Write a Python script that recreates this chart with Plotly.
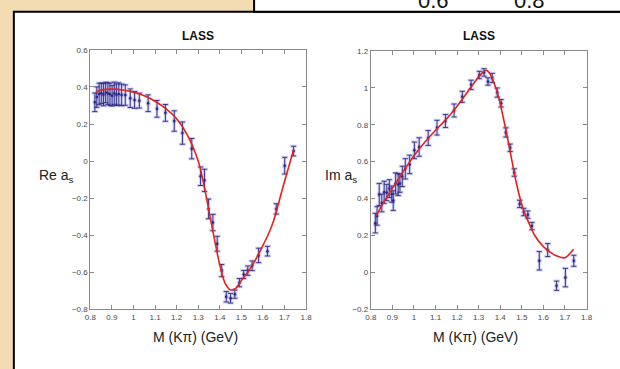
import plotly.graph_objects as go

W, H = 620, 369

# --- Re a_s : LASS measurements ---
m_re = [0.821, 0.830, 0.841, 0.851, 0.861, 0.871, 0.881, 0.891, 0.901, 0.911, 0.921, 0.932, 0.945,
        0.962, 0.985, 1.005, 1.027, 1.068, 1.109, 1.148, 1.189, 1.227, 1.270, 1.311, 1.329,
        1.348, 1.368, 1.388, 1.409, 1.430, 1.450, 1.470, 1.491, 1.511, 1.530, 1.550, 1.580,
        1.621, 1.662, 1.701, 1.742]
re_val = [0.317, 0.345, 0.362, 0.366, 0.358, 0.370, 0.364, 0.360, 0.352, 0.366, 0.358, 0.362, 0.357,
          0.356, 0.339, 0.330, 0.326, 0.312, 0.282, 0.260, 0.216, 0.151, 0.067, -0.082, -0.104,
          -0.258, -0.332, -0.446, -0.591, -0.732, -0.740, -0.718, -0.656, -0.612, -0.591, -0.565, -0.509,
          -0.486, -0.258, -0.025, 0.054]
re_err = [0.050, 0.055, 0.058, 0.055, 0.060, 0.055, 0.058, 0.060, 0.055, 0.060, 0.058, 0.060, 0.058,
          0.055, 0.050, 0.045, 0.040, 0.045, 0.045, 0.045, 0.055, 0.060, 0.055, 0.050, 0.060,
          0.053, 0.044, 0.040, 0.033, 0.028, 0.026, 0.022, 0.022, 0.022, 0.025, 0.026, 0.039,
          0.026, 0.028, 0.045, 0.026]

# --- Re a_s : fit curve ---
m_re_fit = [0.825, 0.85, 0.875, 0.9, 0.95, 1.0, 1.05, 1.1, 1.15, 1.2, 1.25, 1.3, 1.325, 1.35,
            1.375, 1.4, 1.425, 1.45, 1.475, 1.5, 1.55, 1.6, 1.625, 1.65, 1.7, 1.742]
re_fit = [0.372, 0.383, 0.387, 0.388, 0.383, 0.372, 0.352, 0.323, 0.283, 0.228, 0.140, 0.0, -0.12,
          -0.27, -0.42, -0.56, -0.66, -0.695, -0.685, -0.645, -0.565, -0.455, -0.395, -0.32,
          -0.11, 0.06]

# --- Im a_s : LASS measurements ---
m_im = [0.821, 0.829, 0.839, 0.851, 0.862, 0.874, 0.886, 0.897, 0.904, 0.915, 0.927, 0.935, 0.946,
        0.960, 0.980, 1.002, 1.024, 1.066, 1.107, 1.146, 1.186, 1.224, 1.265, 1.303, 1.325,
        1.343, 1.363, 1.386, 1.404, 1.426, 1.446, 1.465, 1.490, 1.509, 1.528, 1.547, 1.581,
        1.620, 1.661, 1.702, 1.741]
im_val = [0.267, 0.306, 0.422, 0.376, 0.434, 0.433, 0.454, 0.424, 0.389, 0.482, 0.476, 0.482, 0.520,
          0.561, 0.585, 0.661, 0.679, 0.728, 0.784, 0.820, 0.877, 0.951, 1.016, 1.069, 1.083,
          1.034, 1.053, 0.974, 0.916, 0.758, 0.675, 0.541, 0.371, 0.327, 0.313, 0.251, 0.063,
          0.121, -0.072, -0.028, 0.063]
im_err = [0.053, 0.050, 0.060, 0.048, 0.060, 0.044, 0.048, 0.044, 0.053, 0.057, 0.060, 0.048, 0.055,
          0.055, 0.050, 0.045, 0.050, 0.040, 0.040, 0.035, 0.035, 0.030, 0.025, 0.020, 0.020,
          0.020, 0.025, 0.025, 0.020, 0.025, 0.020, 0.020, 0.020, 0.020, 0.020, 0.020, 0.050,
          0.035, 0.025, 0.050, 0.030]

# --- Im a_s : fit curve ---
m_im_fit = [0.825, 0.85, 0.9, 0.95, 1.0, 1.05, 1.1, 1.15, 1.2, 1.25, 1.3, 1.32, 1.335, 1.35, 1.37,
            1.39, 1.41, 1.43, 1.45, 1.47, 1.49, 1.51, 1.53, 1.56, 1.6, 1.66, 1.7, 1.74]
im_fit = [0.305, 0.36, 0.455, 0.545, 0.632, 0.705, 0.77, 0.83, 0.90, 0.98, 1.06, 1.085, 1.095,
          1.08, 1.03, 0.96, 0.86, 0.75, 0.63, 0.51, 0.41, 0.33, 0.275, 0.20, 0.14, 0.09, 0.08, 0.125]

x_ticks = [0.8, 0.9, 1, 1.1, 1.2, 1.3, 1.4, 1.5, 1.6, 1.7, 1.8]

FONT = "Liberation Sans, Arial, Helvetica, sans-serif"
NAVY = "#2a2785"
HALO = "rgba(140,140,210,0.38)"
RED = "#e3211f"


def px_x(p):
    return p / W


def px_y(p):
    return 1 - p / H


fig = go.Figure()


def add_panel(m, v, e, mf, vf, xa, ya):
    # soft lavender halo under each error bar
    fig.add_trace(go.Scatter(
        x=m, y=v, mode="markers", xaxis=xa, yaxis=ya, showlegend=False,
        marker=dict(size=5, color=HALO),
        error_y=dict(type="data", array=e, color=HALO, thickness=3, width=3.5)))
    fig.add_trace(go.Scatter(
        x=m, y=v, mode="markers", xaxis=xa, yaxis=ya, showlegend=False,
        marker=dict(size=2.5, color=NAVY),
        error_y=dict(type="data", array=e, color=NAVY, thickness=0.9, width=2.5)))
    fig.add_trace(go.Scatter(
        x=mf, y=vf, mode="lines", xaxis=xa, yaxis=ya, showlegend=False,
        line=dict(color=RED, width=1.6, shape="spline", smoothing=0.8)))


add_panel(m_re, re_val, re_err, m_re_fit, re_fit, "x", "y")
add_panel(m_im, im_val, im_err, m_im_fit, im_fit, "x2", "y2")

axis_common = dict(
    showline=True, linecolor="#8a8a8a", linewidth=1, mirror="ticks",
    ticks="inside", ticklen=4, tickcolor="#8a8a8a", tickwidth=1,
    showgrid=False, zeroline=False,
    tickfont=dict(family=FONT, size=8, color="#4a4a4a"),
)

fig.update_layout(
    width=W, height=H,
    margin=dict(l=0, r=0, t=0, b=0),
    paper_bgcolor="#f3dcb2",
    plot_bgcolor="white",
    showlegend=False,
    xaxis=dict(domain=[px_x(86), px_x(306)], range=[0.8, 1.8], tickvals=x_ticks,
               anchor="y", **axis_common),
    yaxis=dict(domain=[px_y(313), px_y(47)], range=[-0.8, 0.6], dtick=0.2,
               anchor="x", **axis_common),
    xaxis2=dict(domain=[px_x(372), px_x(592)], range=[0.8, 1.8], tickvals=x_ticks,
                anchor="y2", **axis_common),
    yaxis2=dict(domain=[px_y(313), px_y(48)], range=[-0.2, 1.2], dtick=0.2,
                anchor="x2", **axis_common),
)

# slide frame: white panel with black border, plus the box peeking out above it
fig.add_shape(type="rect", xref="paper", yref="paper",
              x0=px_x(8), x1=px_x(630), y0=px_y(380), y1=px_y(8),
              fillcolor="white", line=dict(color="black", width=2), layer="below")
fig.add_shape(type="rect", xref="paper", yref="paper",
              x0=px_x(253), x1=px_x(630), y0=px_y(8), y1=px_y(-10),
              fillcolor="white", line=dict(color="black", width=2), layer="below")

ann = []
for txt, x in [("0.6", 436), ("0.8", 534)]:
    ann.append(dict(text=txt, x=px_x(x), y=px_y(11), xref="paper", yref="paper",
                    xanchor="center", yanchor="bottom", showarrow=False,
                    font=dict(family=FONT, size=22, color="#111111")))
for x in (196, 482):
    ann.append(dict(text="<b>LASS</b>", x=px_x(x), y=px_y(33), xref="paper", yref="paper",
                    xanchor="center", yanchor="middle", showarrow=False,
                    font=dict(family=FONT, size=12, color="#111111")))
    ann.append(dict(text="M (K\u03c0) (GeV)", x=px_x(x - 3), y=px_y(341), xref="paper",
                    yref="paper", xanchor="center", yanchor="middle", showarrow=False,
                    font=dict(family=FONT, size=14, color="#222222")))
ann.append(dict(text="Re a<sub>s</sub>", x=px_x(32), y=px_y(176), xref="paper", yref="paper",
                xanchor="left", yanchor="middle", showarrow=False,
                font=dict(family=FONT, size=14, color="#222222")))
ann.append(dict(text="Im a<sub>s</sub>", x=px_x(323), y=px_y(176), xref="paper", yref="paper",
                xanchor="left", yanchor="middle", showarrow=False,
                font=dict(family=FONT, size=14, color="#222222")))
fig.update_layout(annotations=ann)

fig.write_html("out.html")
